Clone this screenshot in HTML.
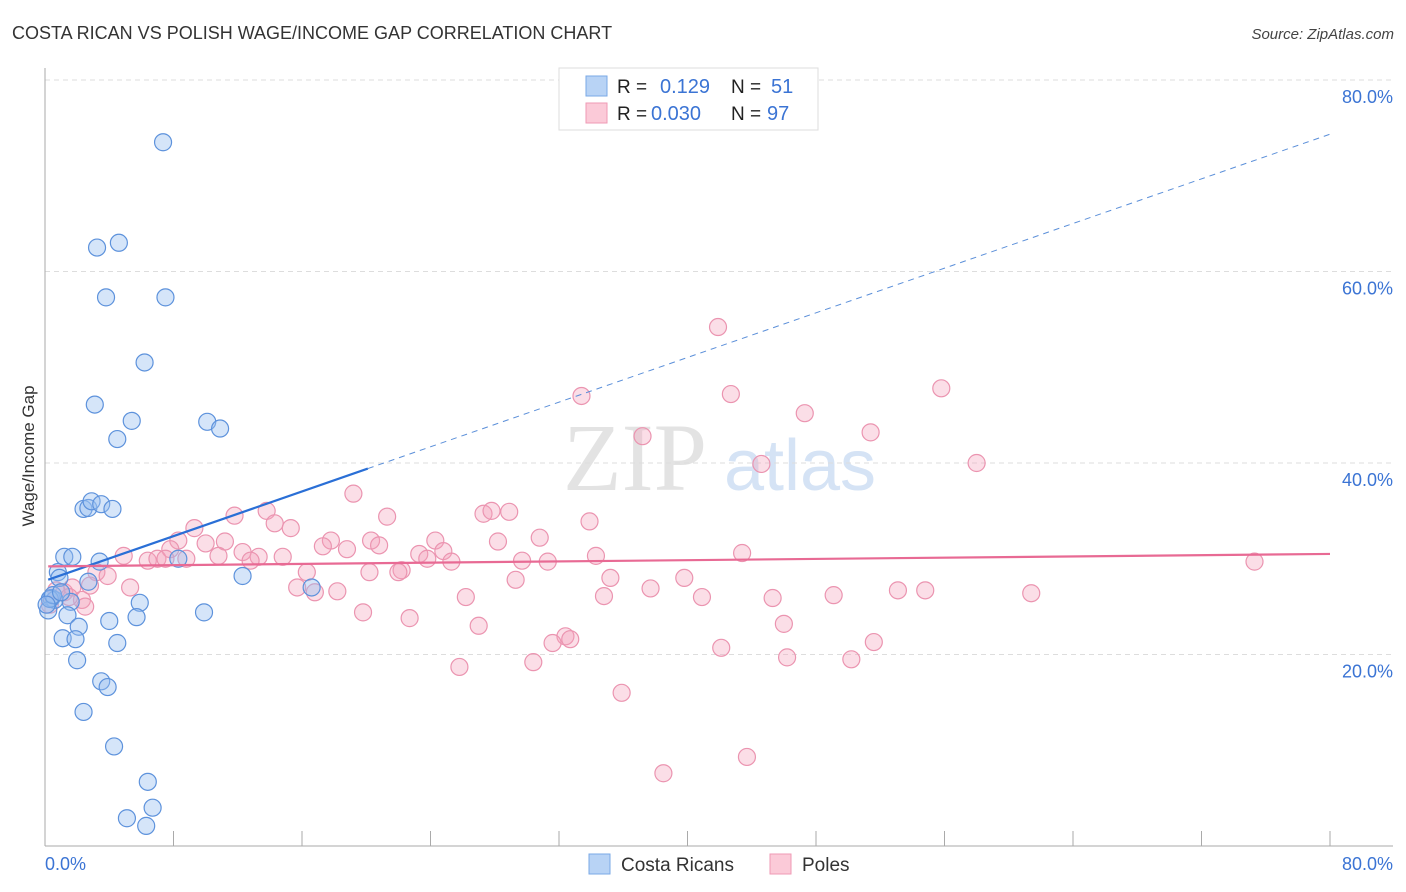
<!DOCTYPE html>
<html><head><meta charset="utf-8"><style>
body{margin:0;background:#fff;font-family:"Liberation Sans",sans-serif;}
svg{display:block}
</style></head><body>
<svg id="chart" width="1406" height="892" xmlns="http://www.w3.org/2000/svg">
<text x="12" y="39" font-size="18" fill="#333">COSTA RICAN VS POLISH WAGE/INCOME GAP CORRELATION CHART</text>
<text x="1394" y="39" font-size="15" fill="#444" text-anchor="end" font-style="italic">Source: ZipAtlas.com</text>
<g>
<text x="635" y="490" font-size="96" fill="#e3e3e3" font-family="Liberation Serif,serif" text-anchor="middle">ZIP</text>
<text x="800" y="490" font-size="72" fill="#d5e3f5" text-anchor="middle">atlas</text>
</g>
<g id="grid"></g>
<g id="axes"></g>
<g id="marks"></g>
<g id="lines"></g>
<text transform="translate(34,456) rotate(-90)" font-size="17" fill="#333" text-anchor="middle">Wage/Income Gap</text>
<g>
<rect x="559" y="68" width="259" height="62" fill="#fff" stroke="#ddd"/>
<rect x="586" y="76" width="21" height="20" fill="#b8d3f5" stroke="#7aa8e6"/>
<rect x="586" y="103" width="21" height="20" fill="#fbcad8" stroke="#ef9ab5"/>
<text x="617" y="93" font-size="19" fill="#222">R =</text>
<text x="660" y="93" font-size="20" fill="#3b74d4">0.129</text>
<text x="731" y="93" font-size="19" fill="#222">N =</text>
<text x="771" y="93" font-size="20" fill="#3b74d4">51</text>
<text x="617" y="120" font-size="19" fill="#222">R =</text>
<text x="651" y="120" font-size="20" fill="#3b74d4">0.030</text>
<text x="731" y="120" font-size="19" fill="#222">N =</text>
<text x="767" y="120" font-size="20" fill="#3b74d4">97</text>
</g>
<g>
<rect x="589" y="854" width="21" height="20" fill="#b8d3f5" stroke="#7aa8e6"/>
<text x="621" y="871" font-size="19" fill="#333">Costa Ricans</text>
<rect x="770" y="854" width="21" height="20" fill="#fbcad8" stroke="#ef9ab5"/>
<text x="802" y="871" font-size="19" fill="#333">Poles</text>
</g>
</svg>
<script>
const yTicks=[20,40,60,80];
const yTickLabels=["20.0%","40.0%","60.0%","80.0%"];
const xTicks=[0,8,16,24,32,40,48,56,64,72,80];
const blueX=[7.35,3.24,4.6,3.8,7.5,6.2,3.1,5.4,4.5,10.1,10.9,2.4,2.7,2.9,3.5,4.2,1.2,1.7,3.4,8.3,12.3,0.8,0.9,2.7,16.6,0.4,0.6,1.6,5.9,1.4,2.1,4.0,5.7,9.9,1.1,1.9,4.5,2.0,3.5,3.9,2.4,4.3,6.4,6.7,5.1,6.3,0.2,0.3,0.5,1.0,0.1];
const blueY=[73.5,62.5,63.0,57.3,57.3,50.5,46.1,44.4,42.5,44.3,43.6,35.2,35.3,36.0,35.7,35.2,30.2,30.2,29.7,30.0,28.2,28.6,28.0,27.6,27.0,25.9,25.7,25.5,25.4,24.1,22.9,23.5,23.9,24.4,21.7,21.6,21.2,19.4,17.2,16.6,14.0,10.4,6.7,4.0,2.9,2.1,24.6,25.8,26.2,26.5,25.2];
const pinkX=[41.9,55.8,42.7,33.4,47.3,37.2,51.4,44.6,58.0,19.2,27.3,27.8,28.9,21.3,33.9,11.8,13.8,14.3,15.3,9.3,8.3,10.0,11.2,17.8,17.3,18.8,20.3,20.8,24.3,28.2,30.8,7.8,4.9,6.4,7.0,7.5,8.8,10.8,12.3,13.3,14.8,12.8,23.3,24.8,23.8,25.3,29.7,31.3,34.3,43.4,75.3,3.2,3.9,16.3,20.2,22.2,22.0,29.3,35.2,39.8,5.3,2.8,15.7,16.8,18.2,26.2,34.8,37.7,40.9,45.3,49.1,53.1,54.8,61.4,1.2,1.7,2.3,0.7,19.8,22.7,27.0,46.0,32.4,32.7,31.6,51.6,42.1,46.2,50.2,30.4,25.8,35.9,38.5,43.7,0.3,1.5,2.5];
const pinkY=[54.2,47.8,47.2,47.0,45.2,42.8,43.2,39.9,40.0,36.8,34.7,35.0,34.9,34.4,33.9,34.5,35.0,33.7,33.2,33.2,31.9,31.6,31.8,31.9,31.3,31.0,31.9,31.4,31.9,31.8,32.2,31.0,30.3,29.8,30.0,30.0,30.0,30.3,30.7,30.2,30.2,29.8,30.5,30.8,30.0,29.7,29.8,29.7,30.3,30.6,29.7,28.6,28.2,28.6,28.6,28.8,28.6,27.8,28.0,28.0,27.0,27.2,27.0,26.5,26.6,26.0,26.1,26.9,26.0,25.9,26.2,26.7,26.7,26.4,26.5,27.0,25.7,26.7,24.4,23.8,23.0,23.2,21.9,21.6,21.2,21.3,20.7,19.7,19.5,19.2,18.7,16.0,7.6,9.3,25.2,26.0,25.0];
const blueTrend=[27.7,0.583];
const pinkTrend=[29.2,0.0163];
const NS="http://www.w3.org/2000/svg";
const X=v=>45+v/80*1285;
const Y=v=>846-v/80*766;
function mk(tag,attrs,parent){const e=document.createElementNS(NS,tag);for(const k in attrs)e.setAttribute(k,attrs[k]);document.getElementById(parent).appendChild(e);return e;}
yTicks.forEach((t,i)=>{
 const g=mk('line',{x1:45,x2:1393,y1:Y(t),y2:Y(t),stroke:'#ddd','stroke-dasharray':'5,4'},'grid');
 
 
 const l=mk('text',{x:1393,y:Y(t)+23,'font-size':18,fill:'#3b74d4','text-anchor':'end'},'axes');
 l.textContent=yTickLabels[i];
 
 
});
const ya=mk('line',{x1:45,x2:45,y1:68,y2:846,stroke:'#aaa'},'axes');


const xa=mk('line',{x1:45,x2:1393,y1:846,y2:846,stroke:'#aaa'},'axes');


xTicks.forEach(t=>{
 const tk=mk('line',{x1:X(t),x2:X(t),y1:831,y2:846,stroke:'#aaa'},'axes');
 
 
});
const x0=mk('text',{x:45,y:870,'font-size':18,fill:'#3b74d4'},'axes');x0.textContent='0.0%';


const x1=mk('text',{x:1393,y:870,'font-size':18,fill:'#3b74d4','text-anchor':'end'},'axes');x1.textContent='80.0%';


pinkX.forEach((v,i)=>{
 const c=mk('circle',{cx:X(v),cy:Y(pinkY[i]),r:8.5,fill:'rgba(244,160,186,0.35)',stroke:'#eb94b0','stroke-width':1.2},'marks');
 
 
});
blueX.forEach((v,i)=>{
 const c=mk('circle',{cx:X(v),cy:Y(blueY[i]),r:8.5,fill:'rgba(150,190,240,0.4)',stroke:'#5d92dc','stroke-width':1.2},'marks');
 
 
});
const b1=mk('line',{x1:X(0.2),y1:Y(blueTrend[0]+blueTrend[1]*0.2),x2:X(20.1),y2:Y(blueTrend[0]+blueTrend[1]*20.1),stroke:'#2a6fd6','stroke-width':2.2},'lines');


const b2=mk('line',{x1:X(20.1),y1:Y(blueTrend[0]+blueTrend[1]*20.1),x2:X(80),y2:Y(blueTrend[0]+blueTrend[1]*80),stroke:'#5b8fd9','stroke-width':1,'stroke-dasharray':'6,5'},'lines');


const p1=mk('line',{x1:X(0.2),y1:Y(pinkTrend[0]+pinkTrend[1]*0.2),x2:X(80),y2:Y(pinkTrend[0]+pinkTrend[1]*80),stroke:'#e86a94','stroke-width':2.2},'lines');


</script>
</body></html>
